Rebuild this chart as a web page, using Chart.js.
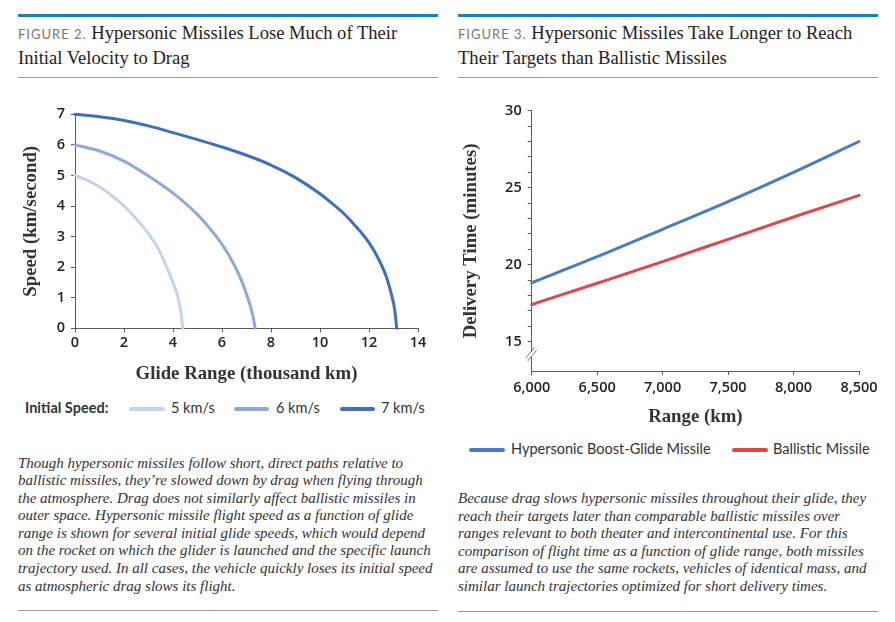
<!DOCTYPE html>
<html>
<head>
<meta charset="utf-8">
<script src="https://cdn.jsdelivr.net/npm/chart.js@4"></script>
<style>
  html, body { margin:0; padding:0; background:#fff; }
  #page { position:relative; width:895px; height:622px; overflow:hidden; background:#fff; }
  .topbar { position:absolute; height:3px; background:#1d7fb7; }
  .rule { position:absolute; height:1.5px; background:#9a9a9a; }
  .title { position:absolute; font-family:'Liberation Serif', serif; font-size:18.6px; line-height:24.5px; color:#222; white-space:nowrap; }
  .title .fig { font-family:'Lato', 'Open Sans', sans-serif; font-size:13px; letter-spacing:1px; color:#777; line-height:1; }
  .caption { position:absolute; font-family:'Liberation Serif', serif; font-style:italic; font-size:15px; line-height:17.6px; color:#333; white-space:nowrap; }
  .legend { position:absolute; font-family:'Lato', 'Open Sans', sans-serif; font-size:14.5px; color:#333; white-space:nowrap; height:18px; line-height:18px; }
  .legend span { position:absolute; top:0; }
  .legend i { position:absolute; top:8px; height:3.5px; border-radius:2px; }
  canvas { position:absolute; }
</style>
</head>
<body>
<div id="page">
  <div class="topbar" style="left:18px; top:14px; width:420px;"></div>
  <div class="topbar" style="left:458px; top:14px; width:420px;"></div>
  <div class="title" style="left:18px; top:21px;"><span class="fig">FIGURE 2.</span> Hypersonic Missiles Lose Much of Their<br>Initial Velocity to Drag</div>
  <div class="title" style="left:458px; top:21px;"><span class="fig">FIGURE 3.</span> Hypersonic Missiles Take Longer to Reach<br>Their Targets than Ballistic Missiles</div>
  <div class="rule" style="left:18px; top:76.5px; width:420px;"></div>
  <div class="rule" style="left:458px; top:76.5px; width:420px;"></div>

  <div id="wrapL" style="position:absolute; left:0; top:90px; width:440px; height:300px;"><canvas id="chartL"></canvas></div>
  <div id="wrapR" style="position:absolute; left:450px; top:90px; width:445px; height:345px;"><canvas id="chartR"></canvas></div>

  <div class="legend" id="legL" style="left:0; top:399px; width:440px;"></div>
  <div class="legend" id="legR" style="left:450px; top:440px; width:445px;"></div>

  <div class="caption" style="left:18px; top:454.5px;">Though hypersonic missiles follow short, direct paths relative to<br>ballistic missiles, they’re slowed down by drag when flying through<br>the atmosphere. Drag does not similarly affect ballistic missiles in<br>outer space. Hypersonic missile flight speed as a function of glide<br>range is shown for several initial glide speeds, which would depend<br>on the rocket on which the glider is launched and the specific launch<br>trajectory used. In all cases, the vehicle quickly loses its initial speed<br>as atmospheric drag slows its flight.</div>
  <div class="caption" style="left:458px; top:490px;">Because drag slows hypersonic missiles throughout their glide, they<br>reach their targets later than comparable ballistic missiles over<br>ranges relevant to both theater and intercontinental use. For this<br>comparison of flight time as a function of glide range, both missiles<br>are assumed to use the same rockets, vehicles of identical mass, and<br>similar launch trajectories optimized for short delivery times.</div>
  <div class="rule" style="left:18px; top:609.5px; width:420px;"></div>
  <div class="rule" style="left:458px; top:610.5px; width:420px;"></div>
</div>

<script>
// ---------- Figure 2 data (glide range in thousand km, speed in km/s) ----------
const range5 = [0, 0.5, 1, 1.5, 2, 2.5, 3, 3.4, 3.74, 4.0, 4.19, 4.32, 4.4];
const speed5 = [5, 4.84, 4.63, 4.34, 4.0, 3.58, 3.1, 2.6, 2.0, 1.5, 1.05, 0.55, 0];
const range6 = [0, 1, 2, 3, 4, 5, 5.5, 6, 6.5, 6.8, 7.05, 7.2, 7.3, 7.35];
const speed6 = [6, 5.8, 5.47, 4.98, 4.42, 3.72, 3.27, 2.75, 2.07, 1.55, 1.0, 0.6, 0.25, 0];
const range7 = [0, 1, 2, 3, 4, 5, 6, 7, 8, 9, 10, 10.5, 11, 11.5, 12, 12.4, 12.7, 12.9, 13.05, 13.13];
const speed7 = [7, 6.92, 6.8, 6.62, 6.4, 6.17, 5.93, 5.66, 5.34, 4.93, 4.4, 4.08, 3.73, 3.3, 2.8, 2.25, 1.7, 1.15, 0.6, 0];
const speedLabels = ['5 km/s', '6 km/s', '7 km/s'];
const speedColors = ['#c3d4ee', '#8eaadb', '#3f6fbe'];

// ---------- Figure 3 data (range in km, delivery time in minutes) ----------
const rangeKm = [6000, 6500, 7000, 7500, 8000, 8500];
const hypersonicMin = [18.83, 20.52, 22.3, 24.1, 26.0, 28.0];
const ballisticMin = [17.42, 18.8, 20.2, 21.65, 23.1, 24.5];
const missileLabels = ['Hypersonic Boost-Glide Missile', 'Ballistic Missile'];
const missileColors = ['#4a7cc4', '#e0474c'];

const zip = (xs, ys) => xs.map((x, i) => ({ x: x, y: ys[i] }));

const tickFont = { family: "'Open Sans', sans-serif", size: 14.5, weight: '600' };
const titleFont = { family: "'Liberation Serif', serif", size: 18.8, weight: 'bold' };
const axisColor = '#595959';

function lineDs(label, data, color) {
  return { label, data, borderColor: color, backgroundColor: color, borderWidth: 3,
           showLine: true, pointRadius: 0, pointHoverRadius: 0, fill: false,
           cubicInterpolationMode: 'monotone', borderCapStyle: 'round', borderJoinStyle: 'round', clip: false };
}

// ---------- Left chart ----------
new Chart(document.getElementById('chartL'), {
  type: 'scatter',
  data: { datasets: [
    lineDs(speedLabels[0], zip(range5, speed5), speedColors[0]),
    lineDs(speedLabels[1], zip(range6, speed6), speedColors[1]),
    lineDs(speedLabels[2], zip(range7, speed7), speedColors[2])
  ]},
  options: {
    responsive: true, maintainAspectRatio: false, animation: false,
    layout: { padding: { left: 0, right: 22, top: 24.3, bottom: 0 } },
    plugins: { legend: { display: false }, tooltip: { enabled: false } },
    scales: {
      x: {
        type: 'linear', min: 0, max: 14,
        ticks: { stepSize: 2, color: '#222', font: tickFont, padding: 2, maxRotation: 0 },
        grid: { drawOnChartArea: false, drawTicks: true, tickLength: 4, color: axisColor },
        border: { display: true, color: axisColor, width: 1 },
        title: { display: true, text: 'Glide Range (thousand km)', color: '#333', font: titleFont, padding: { top: 0, bottom: 5 } },
        afterFit: s => { s.height = 61.7; }
      },
      y: {
        type: 'linear', min: 0, max: 7,
        ticks: { stepSize: 1, color: '#222', font: tickFont, padding: 6 },
        grid: { drawOnChartArea: false, drawTicks: true, tickLength: 4, color: axisColor },
        border: { display: true, color: axisColor, width: 1 },
        title: { display: true, text: 'Speed (km/second)', color: '#333', font: titleFont, padding: { top: 20, bottom: 0 } },
        afterFit: s => { s.width = 75; }
      }
    }
  }
});

// ---------- Right chart ----------
const breakPlugin = {
  id: 'axisBreak',
  afterDraw(chart) {
    const ys = chart.scales.y;
    const x = ys.right;
    const y = ys.getPixelForValue(14.2);
    const ctx = chart.ctx;
    ctx.save();
    ctx.fillStyle = '#fff';
    ctx.beginPath();
    ctx.moveTo(x - 5, y + 4); ctx.lineTo(x + 3, y - 6); ctx.lineTo(x + 5, y - 4); ctx.lineTo(x - 3, y + 6);
    ctx.closePath(); ctx.fill();
    ctx.strokeStyle = '#777'; ctx.lineWidth = 1;
    ctx.beginPath();
    ctx.moveTo(x - 6, y + 4); ctx.lineTo(x + 3, y - 7);
    ctx.moveTo(x - 4, y + 7); ctx.lineTo(x + 5, y - 4);
    ctx.stroke();
    ctx.restore();
  }
};

new Chart(document.getElementById('chartR'), {
  type: 'scatter',
  data: { datasets: [
    lineDs(missileLabels[0], zip(rangeKm, hypersonicMin), missileColors[0]),
    lineDs(missileLabels[1], zip(rangeKm, ballisticMin), missileColors[1])
  ]},
  options: {
    responsive: true, maintainAspectRatio: false, animation: false,
    layout: { padding: { left: 0, right: 36, top: 20.7, bottom: 0 } },
    plugins: { legend: { display: false }, tooltip: { enabled: false } },
    scales: {
      x: {
        type: 'linear', min: 6000, max: 8500,
        ticks: { stepSize: 500, color: '#222', font: tickFont, padding: 4, maxRotation: 0,
                 callback: v => v.toLocaleString('en-US') },
        grid: { drawOnChartArea: false, drawTicks: true, tickLength: 4, color: axisColor },
        border: { display: true, color: axisColor, width: 1 },
        title: { display: true, text: 'Range (km)', color: '#333', font: titleFont, padding: { top: 0, bottom: 7 } },
        afterFit: s => { s.height = 64; }
      },
      y: {
        type: 'linear', min: 13.1, max: 30,
        ticks: { stepSize: 1, autoSkip: false, color: '#222', font: tickFont, padding: 6,
                 callback: v => (v % 5 === 0 ? String(v) : '') },
        afterBuildTicks: s => { s.ticks = s.ticks.filter(t => t.value >= 15 && Number.isInteger(t.value)); },
        grid: { drawOnChartArea: false, drawTicks: true, tickLength: 4, color: axisColor },
        border: { display: true, color: axisColor, width: 1 },
        title: { display: true, text: 'Delivery Time (minutes)', color: '#333', font: titleFont, padding: { top: 10, bottom: 0 } },
        afterFit: s => { s.width = 81.7; }
      }
    }
  },
  plugins: [breakPlugin]
});

// ---------- HTML legends ----------
function addItem(el, color, x1, x2, text, tx) {
  const i = document.createElement('i');
  i.style.left = x1 + 'px'; i.style.width = (x2 - x1) + 'px'; i.style.background = color;
  el.appendChild(i);
  const s = document.createElement('span');
  s.style.left = tx + 'px'; s.textContent = text;
  el.appendChild(s);
}
const legL = document.getElementById('legL');
const head = document.createElement('span');
head.style.left = '25px'; head.style.fontWeight = '700'; head.textContent = 'Initial Speed:';
legL.appendChild(head);
addItem(legL, speedColors[0], 129, 165, speedLabels[0], 171);
addItem(legL, speedColors[1], 234, 269, speedLabels[1], 276);
addItem(legL, speedColors[2], 340, 375, speedLabels[2], 381);
const legR = document.getElementById('legR');
addItem(legR, missileColors[0], 19, 55, missileLabels[0], 61);
addItem(legR, missileColors[1], 282, 318, missileLabels[1], 323);
</script>
</body>
</html>
